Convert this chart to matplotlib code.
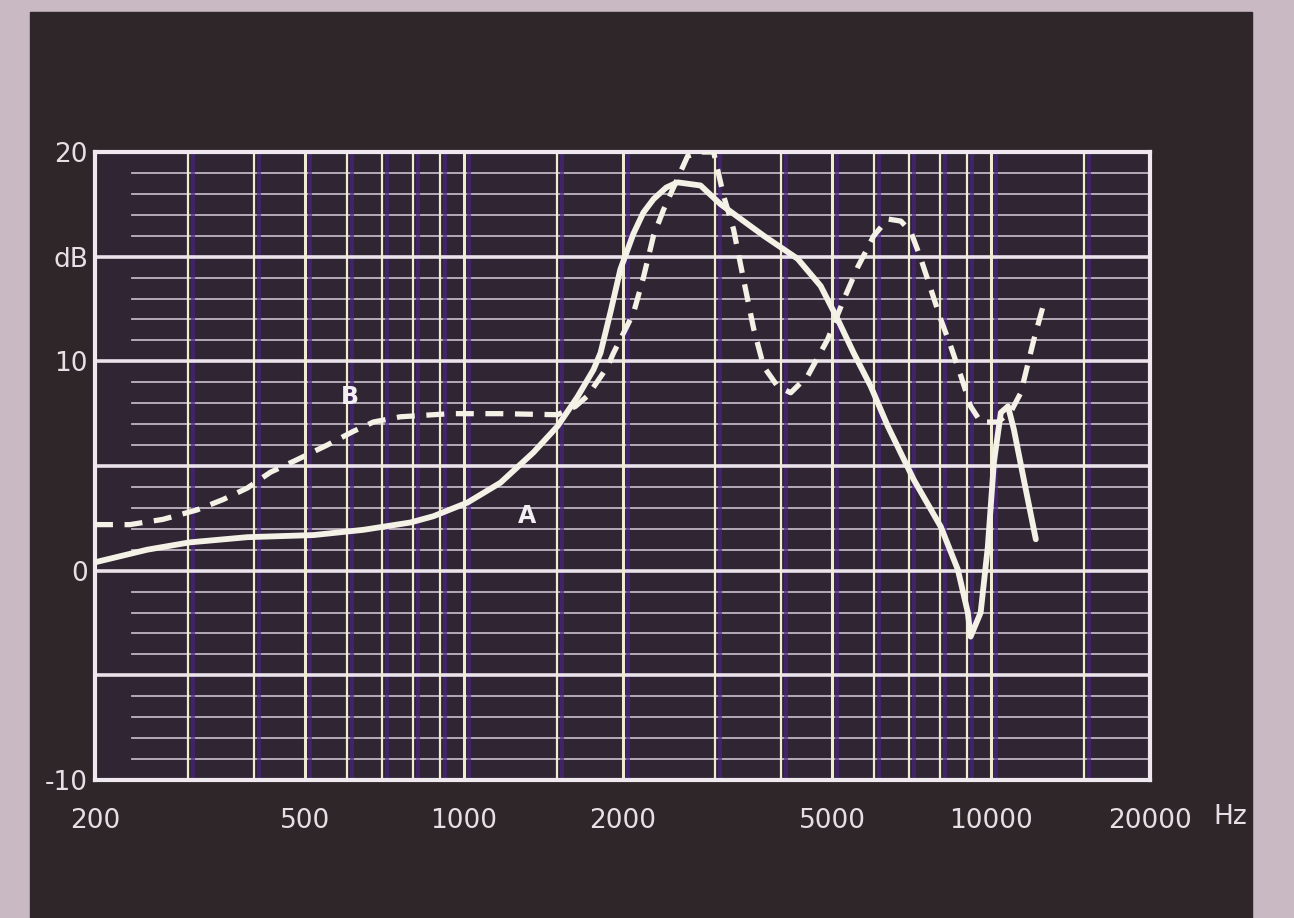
import matplotlib
matplotlib.use("Agg")
import matplotlib.pyplot as plt
import matplotlib.transforms as mtransforms
from matplotlib.ticker import NullLocator

# curve A (solid) - frequency in Hz, level in dB
a_freq = [200, 251, 302, 389, 519, 645, 792, 876, 1016, 1174, 1356, 1506, 1643, 1762,
          1817, 1900, 1982, 2098, 2190, 2290, 2420, 2543, 2812, 3070, 3704, 4296, 4750,
          5118, 5486, 5912, 6368, 7130, 8024, 8644, 9030, 9140, 9550, 9854, 10120, 10430,
          10760, 11040, 11530, 12150]
a_db = [0.4, 1.0, 1.35, 1.6, 1.7, 1.95, 2.3, 2.6, 3.25, 4.2, 5.65, 6.9, 8.3, 9.6,
        10.4, 12.4, 14.4, 16.1, 17.1, 17.75, 18.3, 18.55, 18.4, 17.5, 16.0, 14.9, 13.6,
        12.0, 10.4, 8.8, 6.9, 4.35, 2.1, 0.05, -2.0, -3.15, -2.0, 1.15, 5.2, 7.55,
        7.85, 6.75, 4.35, 1.5]

# curve B (dashed)
b_freq = [200, 233, 269, 312, 350, 389, 430, 483, 551, 617, 674, 758, 943, 1174, 1506,
          1629, 1717, 1874, 1923, 2098, 2191, 2290, 2393, 2657, 2812, 2977, 3110, 3248,
          3393, 3546, 3704, 3937, 4168, 4488, 4898, 5254, 5584, 5990, 6368, 6739, 7038,
          7356, 7683, 8024, 8386, 8760, 9140, 9555, 10300, 10900, 11380, 12050, 12530]
b_db = [2.2, 2.2, 2.45, 2.9, 3.4, 3.95, 4.7, 5.3, 6.0, 6.65, 7.1, 7.35, 7.5, 7.5, 7.45,
        7.85, 8.35, 9.75, 10.4, 12.3, 14.0, 16.0, 17.25, 19.8, 20.0, 20.0, 17.9, 16.3,
        13.9, 11.55, 9.75, 8.8, 8.5, 9.3, 11.05, 12.95, 14.5, 16.0, 16.8, 16.7, 16.2,
        14.9, 13.45, 12.0, 10.7, 9.3, 7.85, 7.1, 7.1, 7.6, 8.5, 11.05, 12.6]

x_ticks = [200, 500, 1000, 2000, 5000, 10000, 20000]
x_labels = ['200', '500', '1000', '2000', '5000', '10000', '20000']
y_ticks = [-10, 0, 10, 15, 20]
y_labels = ['-10', '0', '10', 'dB', '20']
grid_freqs = [300, 400, 500, 600, 700, 800, 900, 1000, 1500, 2000, 3000, 4000, 5000,
              6000, 7000, 8000, 9000, 10000, 15000]

W, H = 1294, 918
fig = plt.figure(figsize=(W / 100, H / 100), dpi=100)
fig.patch.set_facecolor('#c9b9c3')
# dark print panel behind everything
fig.patches.append(plt.Rectangle((30 / W, 0), (1252 - 30) / W, (H - 12) / H,
                                 transform=fig.transFigure, color='#2e2629', zorder=-10))

ax = fig.add_axes([95 / W, (H - 780) / H, (1150 - 95) / W, (780 - 152) / H])
ax.set_zorder(2)
ax.set_facecolor('#2f2533')
ax.set_xscale('log')
ax.set_xlim(200, 20000)
ax.set_ylim(-10, 20)

# horizontal grid: every dB, heavier every 5 dB
for db in range(-9, 20):
    if db % 5 == 0:
        ax.axhline(db, color='#ebe3ec', lw=2.6, zorder=2)
    else:
        ax.axhline(db, xmin=0.035, color='#d8cdda', lw=1.3, alpha=0.85, zorder=1)

# vertical grid with the purplish print shadow beside each line
shadow = mtransforms.offset_copy(ax.get_xaxis_transform(), fig=fig, x=5, y=0, units='dots')
for f in grid_freqs:
    heavy = f in (500, 1000, 2000, 5000, 10000)
    ax.plot([f, f], [0, 1], transform=shadow, color='#4a2380', lw=3.0, alpha=0.7, zorder=1)
    ax.axvline(f, color='#f0ecd2', lw=2.2 if heavy else 1.6, zorder=2)

ax.plot(a_freq, a_db, color='#f4f1e6', lw=4.2, solid_capstyle='round',
        solid_joinstyle='round', zorder=5)
ax.plot(b_freq, b_db, color='#f4f1e6', lw=3.8, linestyle=(0, (3.4, 2.2)),
        dash_capstyle='butt', zorder=5)

ax.text(1320, 2.6, 'A', color='#f2eef2', fontsize=17, fontweight='bold',
        ha='center', va='center', zorder=6)
ax.text(609, 8.3, 'B', color='#f2eef2', fontsize=17, fontweight='bold',
        ha='center', va='center', zorder=6)

for s in ax.spines.values():
    s.set_color('#efe8ee')
    s.set_linewidth(3)
    s.set_zorder(4)

ax.set_xticks(x_ticks)
ax.set_xticklabels(x_labels)
ax.xaxis.set_minor_locator(NullLocator())
ax.set_yticks(y_ticks)
ax.set_yticklabels(y_labels)
ax.tick_params(axis='both', length=0, labelsize=19, labelcolor='#e6e0e6')
ax.tick_params(axis='x', pad=20)
ax.tick_params(axis='y', pad=5)

fig.text(1230 / W, 1 - 817 / H, 'Hz', color='#e6e0e6', fontsize=19, ha='center', va='center')

fig.savefig('out.png', dpi=100, facecolor=fig.get_facecolor())
